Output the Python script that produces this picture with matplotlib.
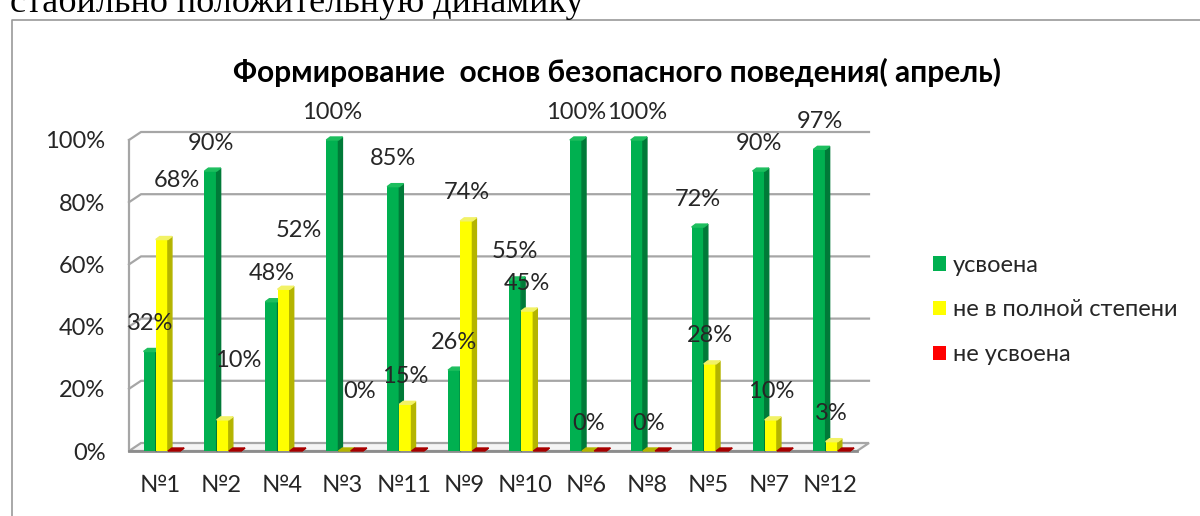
import matplotlib.pyplot as plt
from matplotlib.patches import Patch
from matplotlib.lines import Line2D
import numpy as np

plt.rcParams['font.family'] = ['Lato', 'Noto Sans', 'DejaVu Sans']

categories = ['№1', '№2', '№4', '№3', '№11', '№9', '№10', '№6', '№8', '№5', '№7', '№12']
usvoena = [32, 90, 48, 100, 85, 26, 55, 100, 100, 72, 90, 97]
ne_polnost = [68, 10, 52, 0, 15, 74, 45, 0, 0, 28, 10, 3]
ne_usvoena = [0, 0, 0, 0, 0, 0, 0, 0, 0, 0, 0, 0]
series_names = ['усвоена', 'не в полной степени', 'не усвоена']
y_ticks = [0, 20, 40, 60, 80, 100]
title = 'Формирование  основ безопасного поведения( апрель)'

# yellow labels that sit higher in the original picture
raised_yellow = ['№1', '№2', '№4', '№3']

W, H = 1200, 516
fig = plt.figure(figsize=(12, 5.16), dpi=100)

# plot box in pixels: left wall x=129, back end x=869, 0% at y=451, 100% at y=140
ax = fig.add_axes([129 / W, (H - 451) / H, (869 - 129) / W, (451 - 140) / H])
step = 60.9      # px per category
px_y = 3.11      # px per percent
x = np.arange(len(categories))
xmin = (129 - 160) / step
xmax = (869 - 160) / step
ax.set_xlim(xmin, xmax)
ax.set_ylim(0, 100)

wall_dx, wall_dy = 12 / step, 8 / px_y
bar_dx, bar_dy = 4 / step, 3 / px_y

# walls and floor
grid_c = '#A6A6A6'
front_right = xmax - wall_dx
for t in y_ticks[1:]:
    ax.plot([xmin, xmin + wall_dx, xmax], [t, t + wall_dy, t + wall_dy],
            color=grid_c, lw=1.6, clip_on=False, zorder=1)
ax.plot([xmin, xmin], [0, 100], color=grid_c, lw=1.6, clip_on=False, zorder=1)
ax.fill([xmin, front_right, xmax, xmin + wall_dx], [0, 0, wall_dy, wall_dy],
        facecolor='#F4F4F4', edgecolor=grid_c, lw=1.6, clip_on=False, zorder=1)
ax.plot([xmin, front_right], [0, 0], color='#8C8C8C', lw=2, clip_on=False, zorder=1)

# bars with a fake 3d side and top
w = 0.2
offsets = [-0.27, -0.07, 0.13]
colors = [('#00B050', '#007A38', '#1DBE5E'),
          ('#FFFF00', '#B4B400', '#F2F266'),
          ('#FF0000', '#A80000', '#E41010')]
for vals, off, (fc, sc, tc) in zip([usvoena, ne_polnost, ne_usvoena], offsets, colors):
    left = x + off
    ax.bar(left, vals, width=w, align='edge', color=fc, zorder=3, clip_on=False)
    for l, v in zip(left, vals):
        ax.fill([l + w, l + w + bar_dx, l + w + bar_dx, l + w], [0, bar_dy, v + bar_dy, v],
                color=sc, zorder=3, clip_on=False)
        ax.fill([l, l + bar_dx, l + w + bar_dx, l + w], [v, v + bar_dy, v + bar_dy, v],
                color=tc if v > 0 else sc, zorder=3, clip_on=False)

# data labels (green and yellow only)
lab_kw = dict(ha='center', va='center', fontsize=17, color='#262626', zorder=5)
for i, cat in enumerate(categories):
    ax.text(x[i] + offsets[0] + w / 2, usvoena[i] + 9, f'{usvoena[i]}%', **lab_kw)
    if cat in raised_yellow:
        ax.text(x[i] + offsets[1] + w / 2 + 0.25, ne_polnost[i] + 19, f'{ne_polnost[i]}%', **lab_kw)
    else:
        ax.text(x[i] + offsets[1] + w / 2, ne_polnost[i] + 9, f'{ne_polnost[i]}%', **lab_kw)

ax.set_yticks(y_ticks, labels=[f'{t}%' for t in y_ticks])
ax.set_xticks(x, categories)
ax.tick_params(axis='y', length=0, pad=17, labelsize=17, labelcolor='#262626')
ax.tick_params(axis='x', length=0, pad=17, labelsize=17, labelcolor='#262626')
for s in ax.spines.values():
    s.set_visible(False)
ax.patch.set_visible(False)

fig.text(617 / W, 1 - 72 / H, title, ha='center', va='center',
         fontsize=21.5, fontweight='bold', color='#000000')

# piece of document text above the chart, cut off at the top as in the page scan
fig.text(10 / W, 1 - 12 / H, 'стабильно положительную динамику',
         family='Liberation Serif', fontsize=26, va='baseline', color='#000000')

# chart frame
fig.add_artist(Line2D([12 / W, 12 / W, 1], [0, 1 - 20 / H, 1 - 20 / H],
                      transform=fig.transFigure, color='#9A9A9A', lw=1.2))

handles = [Patch(facecolor=c[0]) for c in colors]
fig.legend(handles, series_names, loc='center left', bbox_to_anchor=(933 / W, 1 - 310 / H),
           frameon=False, fontsize=17, handlelength=0.55, handleheight=0.55,
           handletextpad=0.3, labelspacing=1.0, borderpad=0, borderaxespad=0,
           labelcolor='#262626')

fig.savefig('out.png', dpi=100)
